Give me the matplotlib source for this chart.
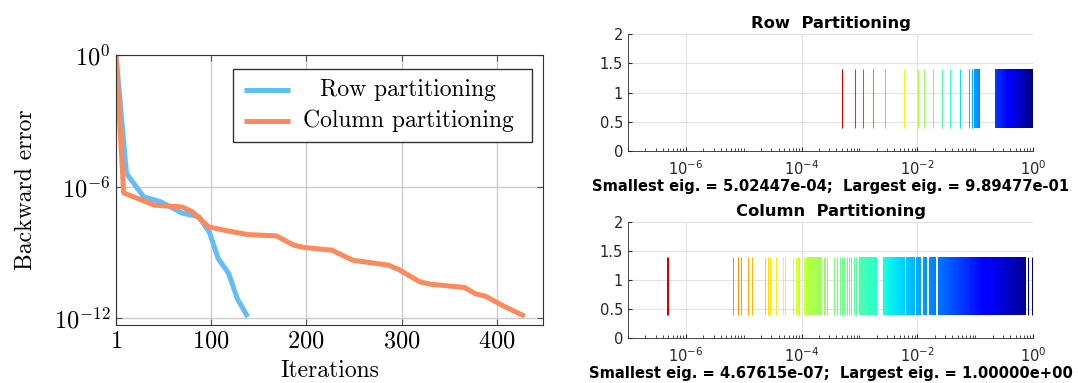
import numpy as np
import matplotlib
matplotlib.use("Agg")
import matplotlib.pyplot as plt
from matplotlib.colors import Normalize
from matplotlib.lines import Line2D
from matplotlib.patches import Rectangle

# ---------------- data ----------------
row_iters = [1, 12, 30, 48, 70, 88, 99, 108, 119, 128, 139]
row_logerr = [0, -5.4, -6.46, -6.69, -7.2, -7.37, -8.1, -9.27, -9.95, -11.1, -11.93]

col_iters = [1, 9, 41, 70, 81, 98, 114, 139, 169, 187, 198, 227, 249, 286, 297,
             319, 330, 366, 377, 388, 407, 429]
col_logerr = [0, -6.28, -6.84, -6.92, -7.14, -7.83, -7.98, -8.18, -8.24, -8.66, -8.77,
              -8.89, -9.35, -9.57, -9.77, -10.33, -10.44, -10.59, -10.87, -10.99,
              -11.44, -11.9]

series_labels = ['Row partitioning', 'Column partitioning']
series_colors = ['#62bdfb', '#fb8a5c']

row_eigs = [5.02447e-4, 8.45e-4, 1.15e-3, 1.74e-3, 2.75e-3, 5.9e-3, 1.02e-2, 1.31e-2,
            1.87e-2, 2.68e-2, 3.6e-2, 5.5e-2, 7.9e-2, 8.7e-2, 9.89477e-1]
row_bands = [(9.4e-2, 0.12), (0.22, 0.9895)]

col_eigs = [4.67615e-7, 5.0e-7,
            6.6e-6, 7.8e-6, 9.1e-6, 1.17e-5, 1.38e-5,
            2.29e-5, 2.63e-5, 2.88e-5, 3.55e-5, 4.79e-5, 5.25e-5, 7.08e-5, 7.94e-5,
            8.51e-5, 9.12e-5, 1.10e-4, 1.17e-4, 2.40e-4, 2.57e-4, 2.75e-4,
            3.63e-4, 4.17e-4, 4.57e-4, 5.01e-4, 5.50e-4, 6.03e-4, 6.61e-4, 7.24e-4,
            7.94e-4, 8.71e-4, 0.83, 0.955, 1.0]
col_bands = [(1.23e-4, 2.29e-4), (1.0e-3, 1.98e-3), (2.51e-3, 6.05e-3),
             (6.46e-3, 9.0e-3), (9.5e-3, 1.15e-2), (1.23e-2, 1.49e-2),
             (1.58e-2, 2.14e-2), (2.24e-2, 0.76)]

row_title = "Row  Partitioning"
col_title = "Column  Partitioning"
row_label = "Smallest eig. = 5.02447e-04;  Largest eig. = 9.89477e-01"
col_label = "Smallest eig. = 4.67615e-07;  Largest eig. = 1.00000e+00"

# ---------------- figure ----------------
plt.rcParams['axes.formatter.use_mathtext'] = True
plt.rcParams['mathtext.fontset'] = 'cm'
fig = plt.figure(figsize=(10.78, 3.83), dpi=100)

FS = 17
# left convergence plot
ax = fig.add_axes([0.1076, 0.1514, 0.396, 0.705])
ax.plot(row_iters, 10.0 ** np.array(row_logerr), color=series_colors[0], lw=3.6,
        solid_capstyle='butt')
ax.plot(col_iters, 10.0 ** np.array(col_logerr), color=series_colors[1], lw=3.6,
        solid_capstyle='butt')
ax.set_yscale('log')
ax.set_xlim(1, 448)
ax.set_ylim(10 ** -12.3, 1)
ax.set_xticks([1, 100, 200, 300, 400])
ax.set_yticks([1e0, 1e-6, 1e-12])
ax.yaxis.set_minor_locator(matplotlib.ticker.NullLocator())
ax.grid(True, color='#cccccc', lw=1.0)
ax.set_axisbelow(True)
ax.tick_params(direction='in', length=4, labelsize=FS, top=True, right=True,
               color='#555555', pad=4)
for lab in ax.get_xticklabels() + ax.get_yticklabels():
    lab.set_family('cmr10')
    lab.set_fontsize(17.5)
ax.set_xlabel('Iterations', fontsize=FS, family='cmr10', labelpad=5)
ax.set_ylabel('Backward error', fontsize=FS, family='cmr10', labelpad=12)
for s in ax.spines.values():
    s.set_color('#333333')

# legend (drawn manually to get centred labels)
ax.add_patch(Rectangle((0.274, 0.678), 0.700, 0.270, transform=ax.transAxes,
                       facecolor='white', edgecolor='#333333', lw=1.0, zorder=5))
for i, (lab, c) in enumerate(zip(series_labels, series_colors)):
    yy = 0.870 - i * 0.113
    ax.add_line(Line2D([0.300, 0.408], [yy, yy], transform=ax.transAxes, color=c,
                       lw=3.6, solid_capstyle='butt', zorder=6))
    ax.text(0.684, yy, lab, transform=ax.transAxes, ha='center', va='center',
            fontsize=FS, family='cmr10', zorder=6)


def eig_panel(rect, eigs, bands, title, label):
    a = fig.add_axes(rect)
    allv = list(eigs) + [b for bb in bands for b in bb]
    lmin, lmax = np.log10(min(allv)), np.log10(max(allv))
    rng = lmax - lmin
    norm = Normalize(vmin=lmin - 0.07 * rng / 0.93, vmax=lmax)
    cmap = plt.get_cmap('jet_r')
    for lo, hi in bands:
        edges = np.logspace(np.log10(lo), np.log10(hi), 80)
        mids = 0.5 * (np.log10(edges[:-1]) + np.log10(edges[1:]))
        a.bar(edges[:-1], 1.0, width=np.diff(edges), bottom=0.4, align='edge',
              color=cmap(norm(mids)), linewidth=0, zorder=2)
    cols = cmap(norm(np.log10(eigs)))
    a.vlines(eigs, 0.4, 1.4, colors=cols, lw=0.75, zorder=3)
    a.set_xscale('log')
    a.set_xlim(1e-7, 1.0)
    a.set_ylim(0, 2)
    a.set_yticks([0, 0.5, 1, 1.5, 2])
    a.set_yticklabels(['0', '0.5', '1', '1.5', '2'])
    a.set_xticks([1e-6, 1e-4, 1e-2, 1e0])
    a.xaxis.set_minor_locator(matplotlib.ticker.LogLocator(base=10, subs=np.arange(1, 10)))
    a.xaxis.set_minor_formatter(matplotlib.ticker.NullFormatter())
    a.grid(True, color='#e3e3e3', lw=0.8)
    a.set_axisbelow(True)
    for s in ['top', 'right']:
        a.spines[s].set_visible(False)
    for s in ['left', 'bottom']:
        a.spines[s].set_color('#262626')
        a.spines[s].set_linewidth(0.6)
    a.tick_params(direction='in', labelsize=10.5, colors='#262626', length=3)
    a.tick_params(axis='x', pad=6)
    a.tick_params(which='minor', direction='in', length=2, color='#262626')
    a.set_title(title, fontsize=11.8, fontweight='bold', pad=4)
    a.set_xlabel(label, fontsize=10.6, fontweight='bold', labelpad=1)
    return a


eig_panel([0.5826, 0.6057, 0.3757, 0.3055], row_eigs, row_bands, row_title, row_label)
eig_panel([0.5826, 0.1175, 0.3757, 0.3029], col_eigs, col_bands, col_title, col_label)

fig.savefig('out.png', dpi=100)
